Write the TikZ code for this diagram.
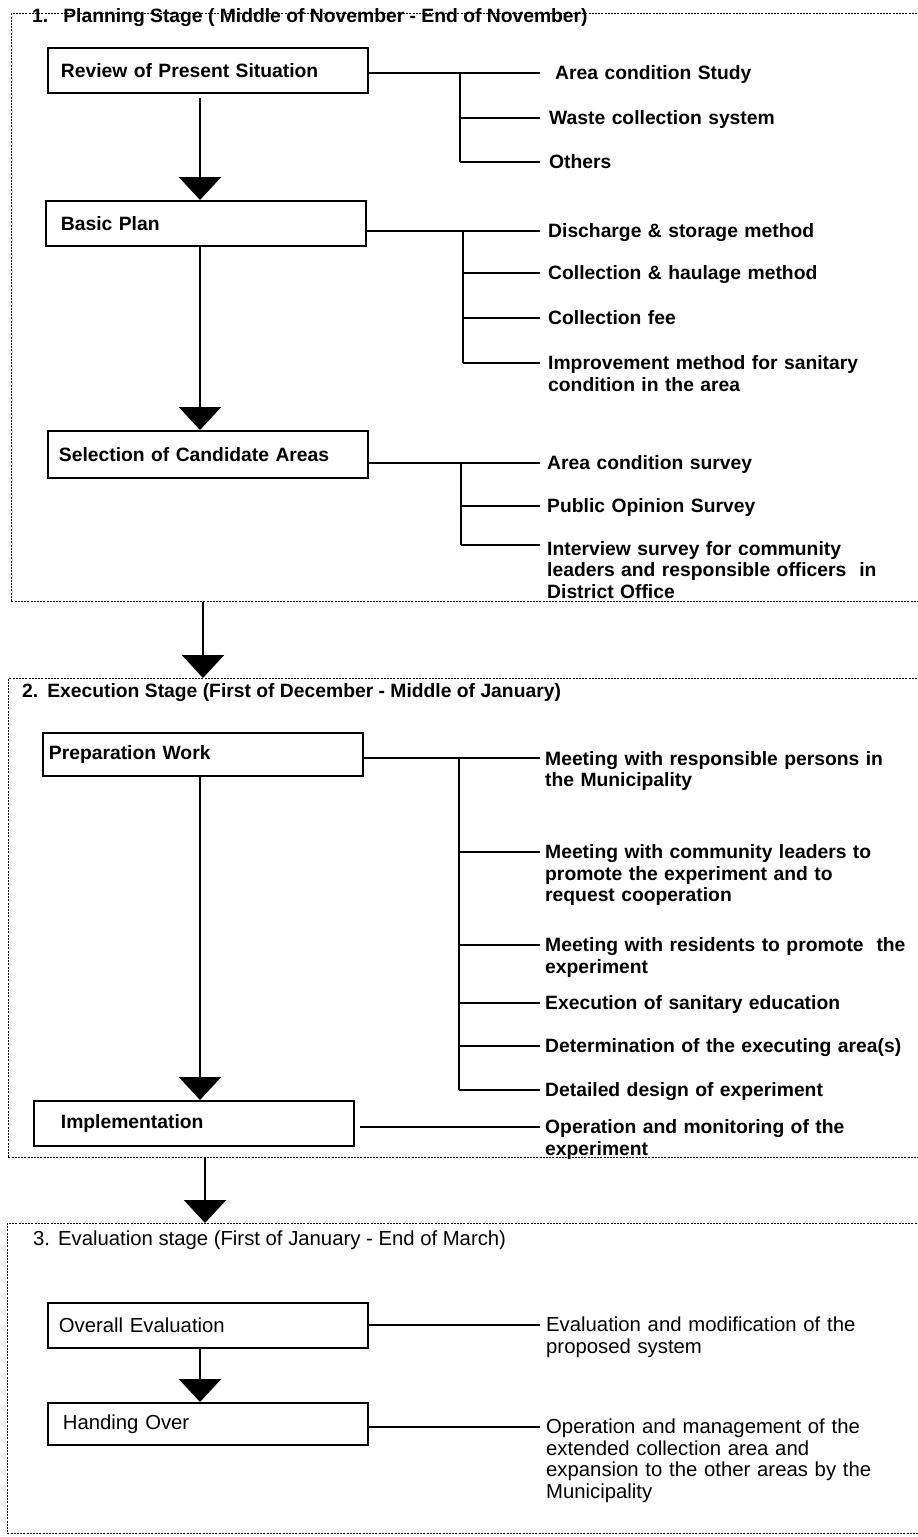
\documentclass[tikz,border=0pt]{standalone}
\usepackage{fontspec}
\setmainfont{Liberation Sans}
\usetikzlibrary{arrows.meta}
\begin{document}
\begin{tikzpicture}[x=1pt,y=-1pt,
  frame/.style={draw, dash pattern=on 2pt off 1.2pt, line width=0.9pt, anchor=north west, inner sep=0pt},
  box/.style={draw, line width=1.8pt, anchor=north west, minimum width=320pt, inner xsep=13pt, inner ysep=0pt, text width=294pt, align=left},
  item/.style={anchor=base west, inner sep=0pt, text width=380pt, align=left},
  ttl/.style={anchor=west, inner sep=0pt},
  arr/.style={line width=2.6pt, -{Triangle[width=42pt,length=23pt]}},
  branch/.style={line width=1.9pt},
  trunk/.style={line width=2.6pt},
  ftb/.style={font=\fontsize{19.3}{21.5}\selectfont\bfseries},
  ftr/.style={font=\fontsize{20.3}{21.5}\selectfont},
]
\useasboundingbox (0,0) rectangle (918,1537);
\fill[white] (0,0) rectangle (918,1537);

% ---------- frames ----------
\node[frame, minimum width=930pt, minimum height=588pt] (f1) at (11,13) {};
\node[frame, minimum width=930pt, minimum height=479pt] (f2) at (8,678) {};
\node[frame, minimum width=930pt, minimum height=310pt] (f3) at (7,1223) {};

% ---------- titles ----------
\node[ttl, ftb] (t1) at (32,18) {1.\hspace{15pt}Planning Stage ( Middle of November - End of November)};
\node[ttl, ftb] (t2) at (22,693) {2.\hspace{9pt}Execution Stage (First of December - Middle of January)};
\node[ttl, ftr] (t3) at (33,1240) {3.\hspace{8pt}Evaluation stage (First of January - End of March)};

% ---------- frame 1 ----------
\node[box, ftb, minimum height=45pt] (b1) at (47,47) {Review of Present Situation};
\node[box, ftb, minimum height=45pt] (b2) at (45,200) {\hspace*{2pt}Basic Plan};
\node[box, ftb, minimum height=47pt] (b3) at (47,430) {\hspace*{-2pt}Selection of Candidate Areas};

\coordinate (ax) at (200,0);
\draw[arr, shorten <=4pt] (b1.south -| ax) -- (b2.north -| ax);
\draw[arr] (b2.south -| ax) -- (b3.north -| ax);

% branches of b1
\coordinate (k1) at (460,0);
\coordinate (e11) at (540,73);
\coordinate (e12) at (540,118);
\coordinate (e13) at (540,162);
\draw[branch] (b1.east |- e11) -- (e11);
\draw[trunk] (k1 |- e11) -- (k1 |- e13);
\draw[branch] (k1 |- e12) -- (e12);
\draw[branch] (k1 |- e13) -- (e13);
\node[item, ftb] (s11) at (555,79.5) {Area condition Study};
\node[item, ftb] (s12) at (549,124.5) {Waste collection system};
\node[item, ftb] (s13) at (549,168.5) {Others};

% branches of b2
\coordinate (k2) at (463,0);
\coordinate (e21) at (540,231);
\coordinate (e22) at (540,273);
\coordinate (e23) at (540,318);
\coordinate (e24) at (540,363);
\draw[branch] (b2.east |- e21) -- (e21);
\draw[trunk] (k2 |- e21) -- (k2 |- e24);
\draw[branch] (k2 |- e22) -- (e22);
\draw[branch] (k2 |- e23) -- (e23);
\draw[branch] (k2 |- e24) -- (e24);
\node[item, ftb] (s21) at (548,237.5) {Discharge \& storage method};
\node[item, ftb] (s22) at (548,279.5) {Collection \& haulage method};
\node[item, ftb] (s23) at (548,324.5) {Collection fee};
\node[item, ftb] (s24) at (548,369.5) {Improvement method for sanitary\\condition in the area};

% branches of b3
\coordinate (k3) at (461,0);
\coordinate (e31) at (540,463);
\coordinate (e32) at (540,506);
\coordinate (e33) at (540,545);
\draw[branch] (b3.east |- e31) -- (e31);
\draw[trunk] (k3 |- e31) -- (k3 |- e33);
\draw[branch] (k3 |- e32) -- (e32);
\draw[branch] (k3 |- e33) -- (e33);
\node[item, ftb] (s31) at (547,469.5) {Area condition survey};
\node[item, ftb] (s32) at (547,512.5) {Public Opinion Survey};
\node[item, ftb] (s33) at (547,555) {Interview survey for community\\leaders and responsible officers\ \ in\\District Office};

% ---------- between frames ----------
\coordinate (fx1) at (203,0);
\coordinate (fx2) at (205,0);
\draw[arr] (f1.south -| fx1) -- (f2.north -| fx1);
\draw[arr] (f2.south -| fx2) -- (f3.north -| fx2);

% ---------- frame 2 ----------
\node[box, ftb, minimum height=43pt] (p1) at (42,732) {\hspace*{-7pt}Preparation Work};
\node[box, ftb, minimum height=45pt] (p2) at (33,1100) {\hspace*{14pt}Implementation};
\draw[arr] (p1.south -| ax) -- (p2.north -| ax);

\coordinate (k4) at (459,0);
\coordinate (e41) at (540,758);
\coordinate (e42) at (540,852);
\coordinate (e43) at (540,945);
\coordinate (e44) at (540,1003);
\coordinate (e45) at (540,1046);
\coordinate (e46) at (540,1090);
\draw[branch] (p1.east |- e41) -- (e41);
\draw[trunk] (k4 |- e41) -- (k4 |- e46);
\draw[branch] (k4 |- e42) -- (e42);
\draw[branch] (k4 |- e43) -- (e43);
\draw[branch] (k4 |- e44) -- (e44);
\draw[branch] (k4 |- e45) -- (e45);
\draw[branch] (k4 |- e46) -- (e46);
\node[item, ftb] (s41) at (545,765) {Meeting with responsible persons in\\the Municipality};
\node[item, ftb] (s42) at (545,858.5) {Meeting with community leaders to\\promote the experiment and to\\request cooperation};
\node[item, ftb] (s43) at (545,951.5) {Meeting with residents to promote\ \ the\\experiment};
\node[item, ftb] (s44) at (545,1009.5) {Execution of sanitary education};
\node[item, ftb] (s45) at (545,1052.5) {Determination of the executing area(s)};
\node[item, ftb] (s46) at (545,1096.5) {Detailed design of experiment};

\coordinate (e51) at (540,1127);
\draw[branch, shorten <=5pt] (p2.east |- e51) -- (e51);
\node[item, ftb] (s51) at (545,1133.5) {Operation and monitoring of the\\experiment};

% ---------- frame 3 ----------
\node[box, ftr, minimum height=45pt] (q1) at (47,1302) {\hspace*{-2pt}Overall Evaluation};
\node[box, ftr, minimum height=42pt] (q2) at (47,1402) {\hspace*{2pt}Handing Over};
\draw[arr] (q1.south -| ax) -- (q2.north -| ax);

\coordinate (e61) at (540,1325);
\coordinate (e62) at (540,1427);
\draw[branch] (q1.east |- e61) -- (e61);
\draw[branch] (q2.east |- e62) -- (e62);
\node[item, ftr] (s61) at (546,1331.5) {Evaluation and modification of the\\proposed system};
\node[item, ftr] (s62) at (546,1433.5) {Operation and management of the\\extended collection area and\\expansion to the other areas by the\\Municipality};
\end{tikzpicture}
\end{document}
